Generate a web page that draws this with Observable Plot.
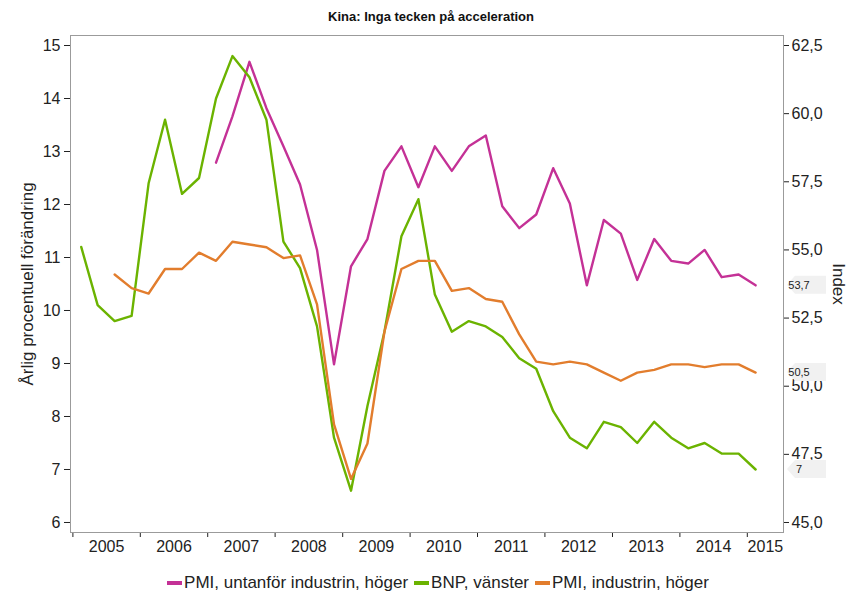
<!DOCTYPE html>
<html><head><meta charset="utf-8">
<script src="https://cdn.jsdelivr.net/npm/d3@7"></script>
<script src="https://cdn.jsdelivr.net/npm/@observablehq/plot@0.6"></script>
<style>
body{margin:0;background:#fff;font-family:"Liberation Sans",Arial,sans-serif;}
#wrap{width:862px;height:596px;position:relative;overflow:hidden;background:#fff;}
#title{height:30px;line-height:33px;text-align:center;font-weight:bold;font-size:13px;color:#111;}
#chart{height:530px;}
#legend{display:flex;justify-content:center;align-items:center;padding-top:10px;padding-left:14px;height:26px;font-size:17px;color:#222;}
.item{display:flex;align-items:center;margin:0 3px;}
.sw{width:15px;height:4px;margin-right:2px;}
</style></head>
<body><div id="wrap"><div id="title">Kina: Inga tecken på acceleration</div><div id="chart"></div><div id="legend"></div></div>
<script>
const quarters = ["2005-02-15","2005-05-15","2005-08-15","2005-11-15",
"2006-02-15","2006-05-15","2006-08-15","2006-11-15",
"2007-02-15","2007-05-15","2007-08-15","2007-11-15",
"2008-02-15","2008-05-15","2008-08-15","2008-11-15",
"2009-02-15","2009-05-15","2009-08-15","2009-11-15",
"2010-02-15","2010-05-15","2010-08-15","2010-11-15",
"2011-02-15","2011-05-15","2011-08-15","2011-11-15",
"2012-02-15","2012-05-15","2012-08-15","2012-11-15",
"2013-02-15","2013-05-15","2013-08-15","2013-11-15",
"2014-02-15","2014-05-15","2014-08-15","2014-11-15",
"2015-02-15"];
// BNP, vänster (årlig procentuell förändring)
const bnp = [11.2,10.1,9.8,9.9,12.4,13.6,12.2,12.5,14.0,14.8,14.4,13.6,11.3,10.8,9.7,7.6,6.6,8.2,9.6,11.4,12.1,10.3,9.6,9.8,9.7,9.5,9.1,8.9,8.1,7.6,7.4,7.9,7.8,7.5,7.9,7.6,7.4,7.5,7.3,7.3,7.0];
// PMI, industrin, höger (index)
const pmiIndustri = [null,null,54.1,53.6,53.4,54.3,54.3,54.9,54.6,55.3,55.2,55.1,54.7,54.8,53.0,48.6,46.6,47.9,52.0,54.3,54.6,54.6,53.5,53.6,53.2,53.1,51.9,50.9,50.8,50.9,50.8,50.5,50.2,50.5,50.6,50.8,50.8,50.7,50.8,50.8,50.5];
// PMI, untanför industrin, höger (index)
const pmiTjanster = [null,null,null,null,null,null,null,null,58.2,59.9,61.9,60.2,58.8,57.4,55.0,50.8,54.4,55.4,57.9,58.8,57.3,58.8,57.9,58.8,59.2,56.6,55.8,56.3,58.0,56.7,53.7,56.1,55.6,53.9,55.4,54.6,54.5,55.0,54.0,54.1,53.7];

const years = [2005,2006,2007,2008,2009,2010,2011,2012,2013,2014,2015];
const leftTicks = [6,7,8,9,10,11,12,13,14,15];
const rightTicks = [45,47.5,50,52.5,55,57.5,60,62.5];
const seriesNames = ["PMI, untanför industrin, höger","BNP, vänster","PMI, industrin, höger"];
const seriesColors = ["#c43196","#6bb300","#e27d2d"];

// axis relation: left 6..15 <-> right 45..62.5
const L0 = 6, L1 = 15, R0 = 45, R1 = 62.5;
const toLeft = r => L0 + (r - R0) * (L1 - L0) / (R1 - R0);
const toRight = l => R0 + (l - L0) * (R1 - R0) / (L1 - L0);
const comma = v => String(v).replace(".", ",");

const dates = quarters.map(d => new Date(d + "T00:00:00Z"));
const xDomain = [new Date("2004-12-19T00:00:00Z"), new Date("2015-07-16T00:00:00Z")];
const yDomain = [5.8113, 15.1887];

const toRows = (vals, conv) => vals.map((v, i) => ({date: dates[i], value: v == null ? null : conv(v)}));
const rowsT = toRows(pmiTjanster, toLeft);
const rowsB = toRows(bnp, v => v);
const rowsI = toRows(pmiIndustri, toLeft);

const last = a => a[a.length - 1];
const endLabels = [
  {y: toLeft(last(pmiTjanster)), text: comma(last(pmiTjanster))},
  {y: toLeft(last(pmiIndustri)), text: comma(last(pmiIndustri))},
  {y: last(bnp), text: comma(last(bnp))}
];

const yearStarts = years.map(y => new Date(Date.UTC(y, 0, 1)));
const labelPos = y => {
  const a = Math.max(Date.UTC(y, 0, 1), +xDomain[0]);
  const b = Math.min(Date.UTC(y + 1, 0, 1), +xDomain[1]);
  return new Date((a + b) / 2);
};

function callouts(index, scales, values, dims) {
  const g = d3.create("svg:g");
  const xr = dims.width - dims.marginRight;
  endLabels.forEach(e => {
    const y = scales.y(e.y);
    g.append("path")
      .attr("d", `M${xr + 4},${y} L${xr + 12},${y - 9} H${xr + 43} V${y + 9} H${xr + 12} Z`)
      .attr("fill", "#f1f1f1");
    g.append("text").attr("x", xr + 16).attr("y", y).attr("dy", "0.35em")
      .attr("font-size", 11).attr("fill", "#222").text(e.text);
  });
  return g.node();
}

const chart = Plot.plot({
  width: 862, height: 530,
  marginLeft: 70, marginRight: 79, marginTop: 5, marginBottom: 28,
  style: {fontFamily: '"Liberation Sans", Arial, sans-serif', fontSize: "16px", color: "#222", background: "#fff", overflow: "visible"},
  x: {type: "utc", domain: xDomain, axis: null},
  y: {domain: yDomain, axis: null},
  marks: [
    Plot.axisY(leftTicks, {anchor: "left", tickSize: 6, tickPadding: 4, label: null, tickFormat: d => String(d)}),
    Plot.axisY(rightTicks.map(toLeft), {anchor: "right", tickSize: 5, tickPadding: 3, label: null, tickFormat: d => comma(toRight(d).toFixed(1))}),
    Plot.axisX(yearStarts, {anchor: "bottom", tickSize: 5, label: null, tickFormat: () => ""}),
    Plot.text(years, {x: d => labelPos(d), text: d => String(d), frameAnchor: "bottom", dy: 19, fontSize: 16}),
    Plot.text(["Årlig procentuell förändring"], {text: d => d, frameAnchor: "left", textAnchor: "middle", rotate: -90, dx: -43, fontSize: 17}),
    Plot.text(["Index"], {text: d => d, frameAnchor: "right", textAnchor: "middle", rotate: 90, dx: 55, fontSize: 17}),
    Plot.line(rowsT, {x: "date", y: "value", stroke: seriesColors[0], strokeWidth: 2.4}),
    Plot.line(rowsB, {x: "date", y: "value", stroke: seriesColors[1], strokeWidth: 2.4}),
    Plot.line(rowsI, {x: "date", y: "value", stroke: seriesColors[2], strokeWidth: 2.4}),
    Plot.frame({stroke: "#9b9b9b"}),
    callouts
  ]
});
document.getElementById("chart").appendChild(chart);

const legend = d3.select("#legend");
seriesNames.forEach((n, i) => {
  const it = legend.append("div").attr("class", "item");
  it.append("div").attr("class", "sw").style("background", seriesColors[i]);
  it.append("span").text(n);
});
</script>
</body></html>
